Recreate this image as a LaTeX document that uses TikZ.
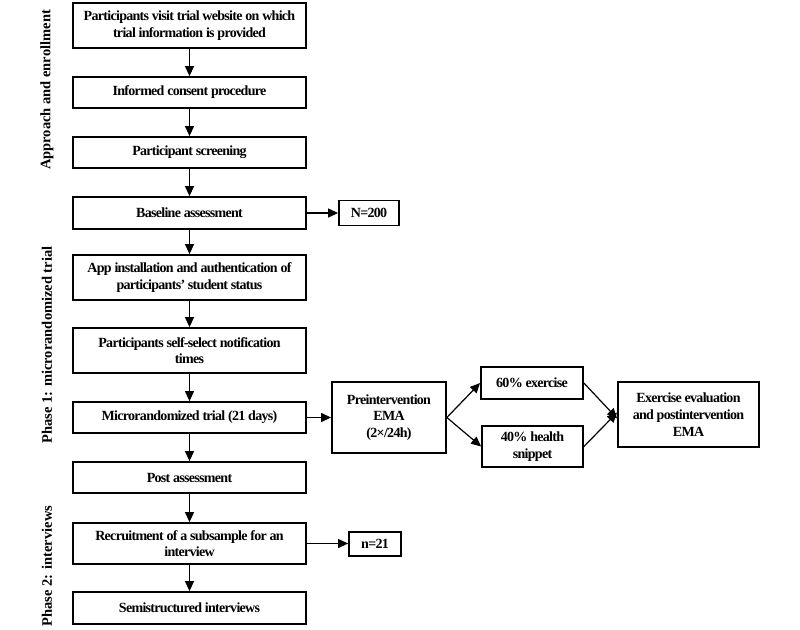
\documentclass[tikz,border=0pt]{standalone}
\usepackage{fontspec}
\setmainfont{Liberation Serif}
\newfontfamily\tightfont{Liberation Serif}[LetterSpace=-5]
\usetikzlibrary{arrows.meta}
\begin{document}
\begin{tikzpicture}[x=1pt,y=-1pt,
  box/.style={draw, line width=1.8pt, inner sep=0pt, align=center,
    font=\tightfont\fontsize{14}{16.7}\selectfont\bfseries},
  mainbox/.style={box, minimum width=233pt},
  arr/.style={line width=1.2pt, -{Triangle[length=10pt,width=9pt]}},
  side/.style={rotate=90, font=\fontsize{14.5}{16}\selectfont\bfseries, inner sep=0pt}]
\useasboundingbox (0,0) rectangle (800,629);
\node[mainbox, minimum height=45pt] (b1) at (189.5,25.5) {Participants visit trial website on which\\trial information is provided};
\node[mainbox, minimum height=31pt] (b2) at (189.5,92.5) {Informed consent procedure};
\node[mainbox, minimum height=31pt] (b3) at (189.5,152.5) {Participant screening};
\node[mainbox, minimum height=32pt] (b4) at (189.5,213) {Baseline assessment};
\node[mainbox, minimum height=45pt] (b5) at (189.5,277.5) {App installation and authentication of\\participants’ student status};
\node[mainbox, minimum height=45pt] (b6) at (189.5,350.5) {Participants self-select notification\\times};
\node[mainbox, minimum height=31pt] (b7) at (189.5,417.5) {Microrandomized trial (21 days)};
\node[mainbox, minimum height=31pt] (b8) at (189.5,477.5) {Post assessment};
\node[mainbox, minimum height=41pt] (b9) at (189.5,543.5) {Recruitment of a subsample for an\\interview};
\node[mainbox, minimum height=32pt] (b10) at (189.5,608) {Semistructured interviews};
\node[box, minimum width=60pt, minimum height=25pt] (n200) at (369,213) {N=200};
\node[box, minimum width=52pt, minimum height=24pt] (n21) at (375,544) {n=21};
\node[box, minimum width=114pt, minimum height=71pt] (pre) at (389,417.5) {Preintervention\\EMA\\(2×/24h)};
\node[box, minimum width=102pt, minimum height=32pt] (ex) at (532,383) {60\% exercise};
\node[box, minimum width=101pt, minimum height=41pt] (hs) at (532.5,446.5) {40\% health\\snippet};
\node[box, minimum width=141pt, minimum height=65pt] (ev) at (688.5,414.5) {Exercise evaluation\\and postintervention\\EMA};
\node[side] (s1) at (47,90) {\textbf{Approach and enrollment}};
\node[side] (s2) at (47,345) {\textbf{Phase 1: microrandomized trial}};
\node[side] (s3) at (47,566) {\textbf{Phase 2: interviews}};
\draw[arr] (b1) -- (b2);
\draw[arr] (b2) -- (b3);
\draw[arr] (b3) -- (b4);
\draw[arr] (b4) -- (n200);
\draw[arr] (b4) -- (b5);
\draw[arr] (b5) -- (b6);
\draw[arr] (b6) -- (b7);
\draw[arr] (b7) -- (b8);
\draw[arr] (b8) -- (b9);
\draw[arr] (b9) -- (b10);
\draw[arr] (b9.east) -- (n21.west |- b9.east);
\draw[arr] (b7) -- (pre);
\draw[arr] (pre.east) -- (ex.west);
\draw[arr] (pre.east) -- (hs.west);
\draw[arr] (ex.east) -- ([yshift=-4pt]ev.west);
\draw[arr] (hs.east) -- ([yshift=2pt]ev.west);
\end{tikzpicture}
\end{document}
